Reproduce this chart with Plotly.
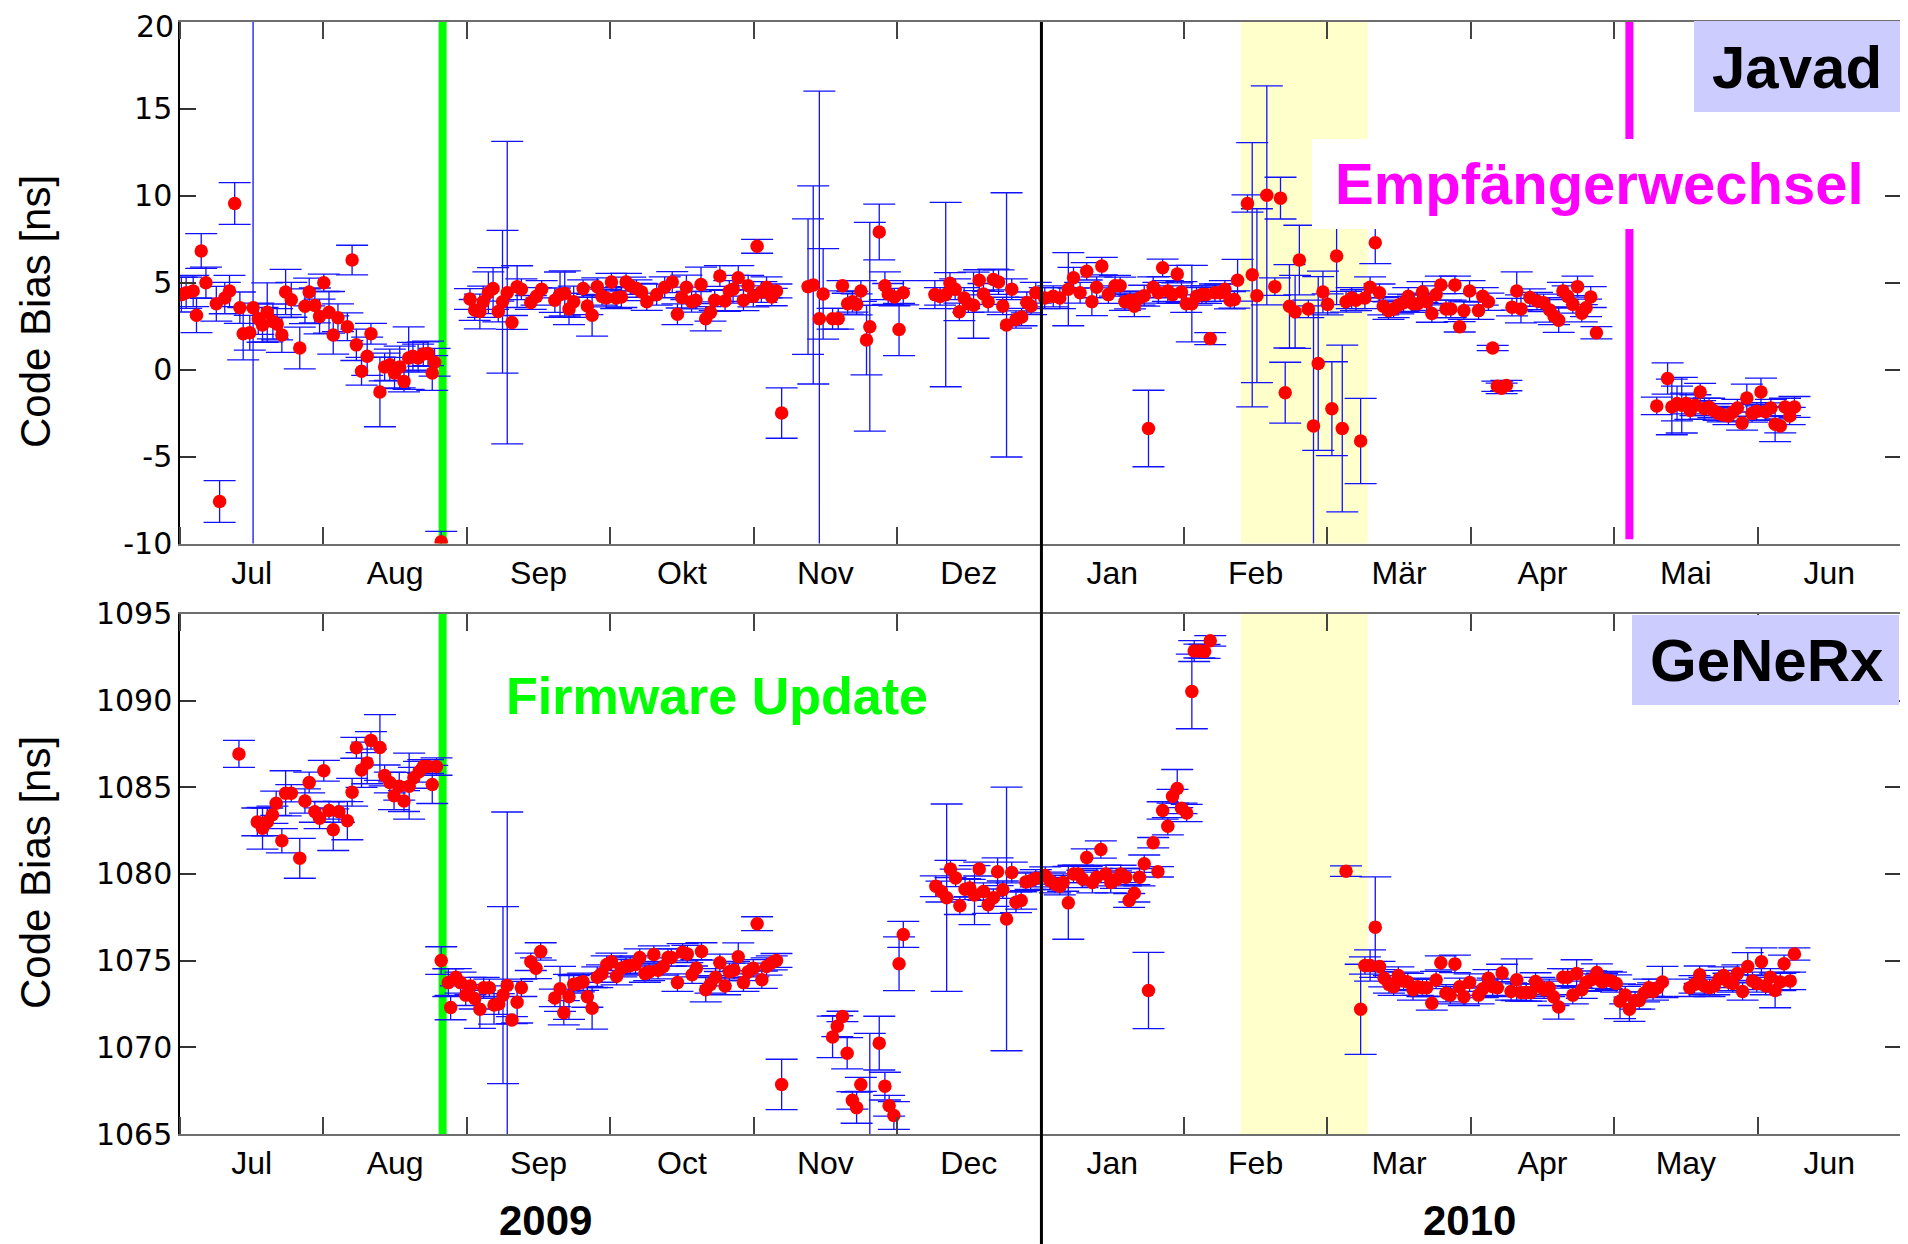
import plotly.graph_objects as go

# ---------------- data ----------------
# x = day index counted from 1 Jul 2009 on a 365-day axis in which every month has equal width
MONTHS_DE = ["Jul", "Aug", "Sep", "Okt", "Nov", "Dez", "Jan", "Feb", "Mär", "Apr", "Mai", "Jun"]
MONTHS_EN = ["Jul", "Aug", "Sep", "Oct", "Nov", "Dec", "Jan", "Feb", "Mar", "Apr", "May", "Jun"]
YEARS = ["2009", "2010"]
JAVAD_TICKS = [-10, -5, 0, 5, 10, 15, 20]
GENERX_TICKS = [1065, 1070, 1075, 1080, 1085, 1090, 1095]

javad_day = [0.3, 1.3, 2.8, 3.5, 4.5, 5.5, 7.7, 8.4, 9.5, 10.5, 11.6, 12.7, 13.4, 14.8, 15.5, 16.6, 17.5, 18.5,
             19.7, 20.6, 21.6, 22.4, 23.6, 25.4, 26.5, 27.4, 28.6, 29.6, 30.5, 31.6, 32.5, 33.5, 35.5, 36.5,
             37.4, 38.5, 39.7, 40.5, 42.4, 43.4, 44.5, 45.5, 46.6, 47.5, 48.5, 49.4, 50.5, 51.6, 52.6, 53.5,
             54.0, 55.4, 61.5, 62.5, 63.6, 64.3, 65.4, 66.4, 67.5, 68.4, 69.4, 70.4, 71.5, 72.4, 74.4, 75.6,
             76.7, 79.5, 80.6, 81.6, 82.5, 83.5, 85.5, 86.4, 87.4, 88.5, 89.5, 90.4, 91.5, 92.5, 93.6, 94.6,
             95.5, 96.8, 97.9, 99.0, 101.1, 102.8, 104.4, 105.5, 106.4, 107.4, 108.5, 109.4, 110.5, 111.5,
             112.5, 113.4, 114.5, 115.6, 116.5, 117.3, 118.4, 119.5, 120.5, 121.6, 122.4, 123.3, 124.4, 125.5,
             126.5, 127.6, 133.2, 134.3, 135.6, 136.4, 138.4, 139.6, 140.5, 141.6, 142.6, 143.5, 144.4, 145.6,
             146.3, 148.3, 149.5, 150.2, 151.5, 152.5, 153.4, 160.1, 161.2, 162.4, 163.3, 164.4, 165.3, 166.3,
             167.2, 168.3, 169.5, 170.4, 171.4, 172.5, 173.6, 174.5, 175.3, 176.4, 177.3, 178.5, 179.6, 180.5,
             181.5, 183.4, 185.2, 186.6, 188.4, 189.5, 190.9, 192.3, 193.4, 194.4, 195.5, 196.9, 198.3, 199.4,
             200.4, 201.5, 202.4, 203.5, 204.5, 205.4, 206.4, 207.5, 208.4, 209.5, 210.5, 211.5, 212.4, 213.4,
             214.6, 215.6, 216.7, 217.6, 218.5, 219.5, 220.6, 221.6, 222.7, 223.6, 224.3, 226.4, 227.4, 228.4,
             230.5, 232.2, 233.4, 234.4, 235.3, 236.5, 237.4, 239.3, 240.4, 241.4, 242.4, 243.4, 244.3, 245.3,
             246.5, 247.3, 248.5, 249.4, 250.4, 251.3, 252.4, 253.5, 254.4, 255.2, 256.3, 257.4, 258.4, 259.5,
             260.5, 261.5, 262.5, 263.5, 264.4, 265.5, 266.4, 267.4, 268.5, 269.5, 270.4, 271.4, 272.3, 273.5,
             275.4, 276.3, 277.5, 278.4, 279.4, 280.3, 281.3, 282.5, 283.5, 284.4, 286.3, 287.8, 289.2, 290.5,
             291.4, 292.4, 293.3, 294.3, 295.4, 296.4, 297.3, 298.2, 299.2, 300.4, 313.2, 315.5, 316.4, 317.5,
             318.5, 319.4, 320.3, 321.4, 322.4, 323.3, 324.3, 325.2, 326.3, 327.2, 328.4, 329.3, 330.3, 331.3,
             332.3, 333.4, 334.4, 335.3, 336.3, 337.4, 338.3, 339.4, 340.4, 341.4, 342.4]
javad_bias = [4.32, 4.43, 4.53, 3.13, 6.83, 5.0, 3.8, -7.58, 4.12, 4.53, 9.56, 3.57, 2.07, 2.13, 3.57, 2.93, 2.58,
              3.30, 2.78, 2.62, 2.0, 4.47, 4.02, 1.25, 3.65, 4.47, 3.70, 3.06, 5.0, 3.30, 2.0, 2.99, 2.47, 6.31,
              1.43, -0.09, 0.77, 2.07, -1.28, 0.16, 0.28, -0.19, 0.16, -0.67, 0.67, 0.77, 0.67, 0.90, 0.94,
              -0.19, 0.43, -9.9, 4.07, 3.44, 3.35, 3.91, 4.43, 4.67, 3.35, 3.91, 4.43, 2.72, 4.78, 4.63, 3.87,
              4.22, 4.63, 4.0, 4.32, 4.39, 3.5, 3.91, 4.67, 3.67, 3.13, 4.78, 4.22, 4.12, 5.04, 4.12, 4.18, 5.04,
              4.83, 4.67, 4.47, 3.91, 4.32, 4.74, 5.04, 3.19, 4.15, 4.74, 3.91, 4.0, 4.9, 2.93, 3.3, 4.0, 5.39,
              3.96, 4.53, 4.63, 5.29, 4.0, 4.83, 4.22, 7.1, 4.47, 4.74, 4.18, 4.53, -2.49, 4.78, 4.88, 2.93,
              4.36, 2.93, 2.93, 4.83, 3.8, 3.91, 3.76, 4.53, 1.71, 2.47, 7.92, 4.83, 4.36, 4.18, 2.31, 4.43,
              4.32, 4.22, 4.32, 4.98, 4.63, 3.33, 4.12, 3.8, 3.71, 5.15, 4.36, 3.91, 5.19, 5.04, 3.67, 2.58,
              4.63, 2.89, 3.03, 3.87, 3.67, 4.43, 4.12, 4.22, 4.12, 4.63, 5.29, 4.43, 5.66, 3.91, 4.74, 5.96,
              4.32, 4.83, 4.83, 3.91, 4.0, 3.65, 4.12, 4.26, -3.38, 4.74, 4.43, 5.86, 4.53, 4.32, 5.5, 4.47,
              3.8, 3.8, 4.22, 4.32, 4.32, 1.79, 4.43, 4.43, 4.63, 4.0, 4.04, 5.15, 9.56, 5.46, 4.26, 10.03,
              4.78, 9.87, -1.32, 3.65, 3.33, 6.31, 3.5, -3.23, 0.36, 4.47, 3.76, -2.24, 6.54, -3.38, 3.91, 4.12,
              4.0, -4.1, 4.12, 4.74, 7.3, 4.43, 3.65, 3.4, 3.5, 3.71, 3.85, 4.22, 3.8, 3.8, 4.47, 3.91, 3.23,
              4.32, 4.88, 3.5, 3.5, 4.88, 2.47, 3.4, 4.53, 3.4, 4.22, 3.91, 1.25, -0.95, -1.07, -0.91, 3.6,
              4.53, 3.5, 4.15, 3.95, 3.85, 3.44, 3.09, 2.85, 4.53, 4.22, 3.76, 4.78, 3.25, 3.56, 4.18, 2.13,
              -2.08, -0.5, -2.14, -1.94, -2.04, -1.94, -2.35, -2.04, -1.28, -2.24, -2.14, -2.35, -2.51, -2.6,
              -2.66, -2.45, -2.2, -3.07, -1.63, -2.51, -2.39, -1.28, -2.41, -2.2, -3.13, -3.23, -2.14, -2.66,
              -2.14]
javad_err = [1.0, 0.9, 0.9, 1.0, 1.0, 0.9, 1.0, 1.2, 0.9, 0.9, 1.2, 0.9, 1.5, 1.0, 25.0, 0.9, 1.0, 1.7, 1.0,
             0.9, 1.0, 1.3, 1.0, 1.2, 1.0, 0.8, 1.0, 1.0, 0.5, 1.2, 1.1, 0.8, 0.8, 0.85, 0.9, 0.8, 1.1, 0.6,
             2.0, 0.8, 0.9, 0.9, 1.2, 0.6, 1.8, 0.8, 0.8, 0.7, 0.7, 1.0, 0.8, 0.6, 0.6, 0.6, 1.0, 0.9, 1.2,
             1.2, 0.6, 4.1, 8.7, 0.4, 1.2, 0.6, 0.4, 0.5, 0.5, 0.7, 1.3, 1.3, 0.9, 0.9, 0.5, 0.5, 1.2, 0.5,
             0.5, 0.5, 0.5, 0.6, 0.6, 0.5, 0.5, 0.5, 0.5, 0.5, 0.6, 0.6, 0.6, 0.6, 0.6, 0.7, 0.6, 0.5, 1.0,
             0.7, 0.5, 0.6, 0.6, 0.6, 0.6, 0.8, 0.7, 0.6, 0.6, 0.6, 0.4, 0.6, 0.6, 0.5, 0.4, 1.45, 3.9, 5.7,
             13.1, 2.6, 0.6, 0.6, 0.3, 0.6, 0.6, 0.6, 0.6, 2.0, 6.0, 1.6, 0.8, 0.6, 0.5, 1.5, 0.7, 0.8, 0.5,
             5.3, 0.6, 0.6, 0.5, 0.6, 0.5, 1.9, 0.6, 0.6, 0.6, 0.6, 0.7, 0.5, 7.6, 0.6, 0.5, 0.5, 0.6, 0.5,
             0.6, 0.6, 0.6, 0.6, 2.1, 0.6, 0.6, 0.5, 0.8, 0.6, 0.5, 0.5, 0.6, 0.5, 0.5, 0.5, 0.6, 0.4, 0.6,
             2.2, 0.6, 0.6, 0.5, 0.6, 0.5, 0.5, 0.6, 0.5, 2.2, 0.5, 0.5, 0.5, 0.35, 0.5, 0.5, 0.5, 0.5, 0.5,
             1.2, 0.5, 7.6, 5.0, 6.3, 0.5, 1.2, 1.75, 2.4, 2.1, 2.0, 0.5, 6.9, 5.0, 1.2, 0.6, 2.7, 2.8, 4.8,
             0.6, 0.6, 0.6, 2.45, 0.6, 0.6, 1.2, 0.5, 0.5, 0.5, 0.5, 0.5, 0.5, 0.5, 0.5, 0.5, 0.6, 0.5, 0.5,
             0.5, 0.5, 0.5, 0.5, 0.5, 0.3, 0.5, 0.6, 0.5, 0.5, 0.5, 0.15, 0.3, 0.3, 0.3, 0.5, 1.1, 0.8, 0.5,
             0.5, 0.5, 0.7, 0.5, 0.7, 0.5, 0.6, 0.5, 0.6, 0.5, 0.5, 0.6, 0.35, 0.5, 0.9, 1.6, 1.0, 1.6, 0.6,
             0.5, 0.6, 0.5, 0.6, 0.5, 0.4, 0.4, 0.4, 0.5, 0.5, 0.5, 0.4, 0.8, 0.5, 0.5, 0.8, 0.5, 0.5, 1.0,
             0.4, 0.5, 0.5, 0.6]

generx_day = [12.5, 16.4, 17.5, 18.5, 19.6, 20.4, 21.6, 22.4, 23.6, 25.4, 26.5, 27.4, 28.6, 29.6, 30.5, 31.6,
              32.5, 33.7, 35.5, 36.5, 37.4, 38.5, 39.7, 40.5, 42.4, 43.4, 44.5, 45.4, 46.5, 47.5, 48.6, 49.6,
              50.7, 51.6, 52.6, 53.5, 54.4, 55.4, 56.9, 57.4, 58.5, 59.5, 60.6, 61.6, 62.5, 63.6, 64.4, 65.6,
              66.6, 67.6, 68.5, 69.4, 70.4, 71.5, 72.4, 74.4, 75.5, 76.5, 79.5, 80.6, 81.4, 82.5, 83.5, 84.6,
              85.5, 86.4, 87.4, 88.5, 89.5, 90.5, 91.5, 92.6, 93.6, 94.6, 95.5, 96.6, 97.5, 98.6, 99.5, 100.5,
              101.4, 102.5, 103.5, 104.2, 105.5, 106.6, 107.6, 108.6, 109.5, 110.6, 111.5, 112.5, 113.6, 114.5,
              115.6, 116.5, 117.5, 118.4, 119.5, 120.5, 121.6, 122.4, 123.4, 124.4, 125.5, 126.5, 127.6, 138.4,
              139.4, 140.5, 141.5, 142.6, 143.5, 144.4, 146.3, 148.3, 149.5, 150.4, 151.4, 152.5, 153.4, 160.3,
              161.5, 162.6, 163.4, 164.5, 165.4, 166.5, 167.5, 168.5, 169.5, 170.4, 171.4, 172.5, 173.4, 174.5,
              175.3, 176.4, 177.3, 178.4, 179.4, 180.4, 181.5, 183.5, 184.5, 185.6, 186.6, 187.3, 188.4, 189.5,
              190.5, 191.4, 192.3, 193.5, 194.4, 195.3, 196.4, 197.4, 198.5, 199.5, 200.6, 201.3, 202.4, 203.5,
              204.5, 205.4, 206.4, 207.4, 208.4, 209.5, 210.5, 211.5, 212.4, 213.5, 214.6, 215.1, 216.2, 217.3,
              218.5, 247.3, 250.4, 251.3, 252.4, 253.5, 254.4, 255.4, 256.4, 257.4, 258.4, 259.5, 260.4, 261.5,
              262.5, 263.5, 264.4, 265.5, 266.4, 267.4, 268.5, 269.4, 270.4, 271.4, 272.3, 273.5, 275.4, 276.3,
              277.5, 278.4, 279.4, 280.4, 282.3, 283.5, 284.4, 285.5, 286.5, 287.5, 288.3, 289.3, 290.4, 291.3,
              292.4, 293.3, 294.3, 295.4, 296.2, 297.3, 298.2, 299.3, 300.5, 301.6, 302.6, 303.5, 304.6, 305.4,
              306.5, 307.4, 308.6, 309.5, 310.5, 311.5, 312.4, 313.4, 314.4, 320.2, 321.2, 322.3, 323.3, 324.4,
              325.4, 326.4, 327.4, 328.4, 329.3, 330.3, 331.4, 332.5, 333.5, 334.4, 335.4, 336.3, 337.3, 338.3,
              339.4, 340.2, 341.5, 342.4]
generx_bias = [1086.92, 1083.0, 1082.63, 1083.0, 1083.41, 1084.07, 1081.91, 1084.65, 1084.65, 1080.90, 1084.2,
               1085.27, 1083.58, 1083.21, 1085.95, 1083.66, 1082.55, 1083.58, 1083.07, 1084.71, 1087.27, 1085.99,
               1086.40, 1087.70, 1087.29, 1085.68, 1085.27, 1084.51, 1085.06, 1084.2, 1085.06, 1085.54, 1085.89,
               1086.19, 1086.19, 1085.16, 1086.19, 1075.0, 1073.73, 1072.29, 1074.04, 1073.73, 1073.01, 1073.53,
               1072.81, 1072.19, 1073.43, 1073.43, 1072.44, 1072.5, 1073.01, 1073.57, 1071.57, 1072.6, 1073.43,
               1074.93, 1074.56, 1075.53, 1072.85, 1073.37, 1071.99, 1072.91, 1073.63, 1073.70, 1073.78, 1072.91,
               1072.25, 1074.04, 1074.25, 1074.77, 1074.93, 1074.1, 1074.56, 1074.66, 1074.72, 1074.77, 1075.18,
               1074.25, 1074.35, 1075.35, 1074.45, 1074.66, 1075.18, 1075.18, 1073.73, 1075.48, 1075.38, 1074.19,
               1074.56, 1075.53, 1073.32, 1073.63, 1074.04, 1074.87, 1073.53, 1074.35, 1074.45, 1075.22, 1073.73,
               1074.35, 1074.56, 1077.13, 1073.9, 1074.66, 1074.87, 1075.01, 1067.86, 1070.60, 1071.22, 1071.78,
               1069.66, 1066.94, 1066.52, 1067.86, 1064.0, 1070.24, 1067.76, 1066.63, 1066.07, 1074.82, 1076.51,
               1079.29, 1078.98, 1078.63, 1080.28, 1079.77, 1078.16, 1079.12, 1079.19, 1078.78, 1080.28, 1078.98,
               1078.22, 1078.63, 1080.12, 1079.09, 1077.4, 1080.08, 1078.37, 1078.47, 1079.54, 1079.6, 1079.75,
               1079.91, 1079.6, 1079.4, 1079.29, 1079.5, 1078.33, 1080.0, 1080.0, 1079.71, 1080.94, 1079.5,
               1079.81, 1081.41, 1080.0, 1079.5, 1079.67, 1080.0, 1079.81, 1078.47, 1078.88, 1079.81, 1080.59,
               1073.28, 1081.8, 1080.12, 1083.66, 1082.75, 1084.48, 1084.92, 1083.78, 1083.51, 1090.52, 1092.85,
               1092.85, 1092.83, 1093.44, 1080.16, 1072.19, 1074.72, 1074.72, 1076.93, 1074.66, 1073.98, 1073.63,
               1073.49, 1074.14, 1073.83, 1073.77, 1073.32, 1073.49, 1073.43, 1073.43, 1072.54, 1073.88, 1074.87,
               1073.12, 1073.01, 1074.81, 1073.49, 1072.91, 1073.73, 1073.01, 1073.37, 1073.98, 1073.49, 1073.43,
               1074.29, 1073.22, 1073.9, 1073.16, 1073.16, 1073.16, 1073.8, 1073.53, 1073.32, 1073.43, 1072.91,
               1072.33, 1074.04, 1074.04, 1073.01, 1074.25, 1073.32, 1073.73, 1073.9, 1074.31, 1073.77, 1073.88,
               1073.83, 1073.68, 1072.65, 1073.01, 1072.19, 1072.7, 1072.7, 1073.12, 1073.43, 1073.22, 1073.43,
               1073.77, 1073.43, 1073.63, 1074.19, 1073.53, 1073.43, 1073.53, 1073.94, 1074.14, 1073.77, 1073.68,
               1074.25, 1073.22, 1074.66, 1073.83, 1073.68, 1074.93, 1073.53, 1074.04, 1073.28, 1073.77, 1074.82,
               1073.83, 1075.38]
generx_err = [0.78, 0.8, 1.2, 0.8, 0.5, 0.7, 0.7, 1.3, 0.5, 1.15, 0.7, 0.6, 0.6, 0.6, 0.6, 0.5, 1.2, 0.6, 1.1,
              0.8, 0.6, 1.0, 1.2, 0.5, 1.9, 0.6, 0.6, 0.8, 0.8, 0.6, 1.9, 0.6, 0.6, 0.4, 0.4, 1.1, 0.5, 0.8,
              0.8, 0.7, 0.5, 0.6, 0.6, 0.5, 0.6, 1.1, 0.6, 0.5, 1.1, 0.6, 5.1, 10.0, 0.2, 1.2, 0.5, 0.5, 0.6,
              0.5, 0.5, 1.3, 0.7, 1.3, 0.5, 0.5, 0.5, 0.6, 1.2, 0.6, 0.5, 0.5, 0.5, 0.5, 0.5, 0.5, 0.5, 0.5,
              0.5, 0.5, 0.5, 0.5, 0.5, 0.5, 0.5, 0.5, 0.5, 0.5, 0.5, 0.5, 0.5, 0.5, 0.7, 0.5, 0.5, 0.5, 0.5,
              0.5, 0.5, 0.8, 0.5, 0.5, 0.5, 0.4, 0.5, 0.5, 0.4, 0.4, 1.45, 1.2, 0.6, 0.3, 0.9, 0.5, 0.9, 0.4,
              6.8, 1.55, 0.8, 0.6, 0.8, 1.55, 0.75, 0.6, 0.6, 5.4, 0.5, 0.5, 0.5, 0.6, 0.5, 1.7, 0.4, 0.5, 0.5,
              0.5, 0.8, 0.5, 7.6, 0.6, 0.6, 0.5, 0.5, 0.5, 0.5, 0.5, 0.5, 0.5, 0.5, 0.5, 2.1, 0.5, 0.5, 0.5,
              0.5, 0.6, 0.5, 0.5, 0.5, 0.6, 0.5, 0.5, 0.5, 0.4, 0.5, 0.5, 0.5, 2.2, 0.3, 0.3, 0.5, 0.5, 0.4,
              1.1, 0.3, 0.5, 2.15, 0.6, 0.4, 0.4, 0.3, 0.3, 2.6, 0.5, 0.9, 2.9, 0.3, 0.5, 0.5, 0.5, 0.5, 0.5,
              0.5, 0.6, 0.5, 0.5, 0.5, 0.4, 0.5, 0.4, 0.5, 0.5, 0.5, 0.5, 0.5, 0.5, 0.5, 0.5, 0.5, 0.5, 0.5,
              0.5, 0.5, 1.2, 0.5, 0.5, 0.5, 0.5, 0.5, 0.5, 0.5, 0.5, 0.7, 0.5, 0.5, 0.5, 0.8, 0.5, 0.5, 0.5,
              0.5, 0.5, 0.5, 0.5, 0.5, 1.0, 0.5, 0.7, 0.5, 0.5, 0.5, 0.5, 0.5, 0.5, 0.9, 0.5, 0.5, 0.5, 0.5,
              0.5, 0.5, 0.5, 0.5, 0.5, 0.5, 0.5, 0.5, 0.8, 0.5, 0.5, 0.8, 0.5, 0.5, 1.0, 0.5, 0.5, 0.5, 0.35]

# events (day index)
FIRMWARE_DAY = 55.7
RECEIVER_CHANGE_DAY = 307.4
YEAR_CHANGE_DAY = 182.7
GAP_START, GAP_END = 225.0, 251.9

# ---------------- figure ----------------
OFF = 8                      # default page margin of the html body
W, H = 1908 - OFF, 1244 - OFF
ML, MR, MT, MB = 172, 7, 14, 110
PW, PH = W - ML - MR, H - MT - MB


def px(xp):   # absolute screenshot pixel -> paper
    return (xp - OFF - ML) / PW


def py(yp):
    return (H - MB - (yp - OFF)) / PH


MONTH = 365.0 / 12.0
centers = [(i + 0.5) * MONTH for i in range(12)]
bounds = [i * MONTH for i in range(13)]

LBL = "Liberation Sans"
TICKFONT = dict(family="DejaVu Sans", size=30, color="black")
err_style = dict(type="data", color="#1212ff", thickness=1.3, width=16)
mk = dict(color="#ff0000", size=13.5)

fig = go.Figure()
fig.add_trace(go.Scatter(x=javad_day, y=javad_bias, mode="markers", marker=mk,
                         error_y=dict(array=javad_err, **err_style), xaxis="x", yaxis="y",
                         showlegend=False, hoverinfo="skip"))
fig.add_trace(go.Scatter(x=generx_day, y=generx_bias, mode="markers", marker=mk,
                         error_y=dict(array=generx_err, **err_style), xaxis="x2", yaxis="y2",
                         showlegend=False, hoverinfo="skip"))


def xax(labels, anchor):
    return dict(range=[0, 365], domain=[0, 1], anchor=anchor, tickmode="array", tickvals=centers,
                ticktext=labels, ticks="", showline=True, linecolor="#6e6e6e", linewidth=1.5,
                mirror="ticks", showgrid=False, zeroline=False, automargin=False,
                ticklabeloverflow="allow",
                tickfont=dict(family=LBL, size=32, color="black"),
                minor=dict(tickmode="array", tickvals=bounds, ticks="inside", ticklen=17,
                           tickcolor="#444444", tickwidth=1.5, showgrid=False))


def yax(rng, dom, anchor, tv, text):
    return dict(range=rng, domain=dom, anchor=anchor, tickmode="array", tickvals=tv,
                ticktext=text, ticks="inside", ticklen=16, automargin=False,
                ticklabeloverflow="allow",
                tickcolor="#333333", tickwidth=1.5, showline=True, linecolor="black", linewidth=1.5,
                mirror="ticks", showgrid=False, zeroline=False, tickfont=TICKFONT)


top_dom = [py(543.6), 1.0]
bot_dom = [0.0, py(613.8)]

# the top-most label of the upper panel is written as an annotation so it stays inside the page
javad_text = [str(v) for v in JAVAD_TICKS[:-1]] + [""]
generx_text = [str(v) for v in GENERX_TICKS]

shapes = []
for xr, yr in (("x", "y domain"), ("x2", "y2 domain")):
    shapes.append(dict(type="rect", xref=xr, yref=yr, x0=GAP_START, x1=GAP_END, y0=0, y1=1,
                       fillcolor="#ffffcc", line=dict(width=0), layer="below"))
    shapes.append(dict(type="line", xref=xr, yref=yr, x0=FIRMWARE_DAY, x1=FIRMWARE_DAY, y0=0, y1=1,
                       line=dict(color="#00ff00", width=8), layer="below"))
shapes.append(dict(type="line", xref="x", yref="y", x0=RECEIVER_CHANGE_DAY, x1=RECEIVER_CHANGE_DAY,
                   y0=-9.75, y1=20.24, line=dict(color="#ff00ff", width=8), layer="above"))
# white label box hiding the magenta line
shapes.append(dict(type="rect", xref="paper", yref="paper", x0=px(1312), x1=px(1884), y0=py(229), y1=py(139),
                   fillcolor="white", line=dict(width=0), layer="above"))
# receiver name boxes
shapes.append(dict(type="rect", xref="paper", yref="paper", x0=px(1694), x1=px(1900), y0=py(112), y1=py(21),
                   fillcolor="#ccccff", line=dict(width=0), layer="above"))
shapes.append(dict(type="rect", xref="paper", yref="paper", x0=px(1632), x1=px(1899), y0=py(705), y1=py(615),
                   fillcolor="#ccccff", line=dict(width=0), layer="above"))
# year boundary
shapes.append(dict(type="line", xref="x", yref="paper", x0=YEAR_CHANGE_DAY, x1=YEAR_CHANGE_DAY,
                   y0=py(1244), y1=1.0, line=dict(color="black", width=3), layer="above"))

annotations = [
    dict(text="<b>Javad</b>", x=px(1797), y=py(68), font=dict(family=LBL, size=60, color="black")),
    dict(text="<b>GeNeRx</b>", x=px(1766), y=py(660), font=dict(family=LBL, size=60, color="black")),
    dict(text="<b>Empfängerwechsel</b>", x=px(1599), y=py(184), font=dict(family=LBL, size=58, color="#ff00ff")),
    dict(text="<b>Firmware Update</b>", x=px(717), y=py(696), font=dict(family=LBL, size=52, color="#00ff00")),
    dict(text="Code Bias [ns]", x=px(35), y=py(312), textangle=-90, font=dict(family=LBL, size=42, color="black")),
    dict(text="Code Bias [ns]", x=px(35), y=py(873), textangle=-90, font=dict(family=LBL, size=42, color="black")),
]
for a in annotations:
    a.update(xanchor="center", yanchor="middle")
for name, xc in ((YEARS[0], 545), (YEARS[1], 1469)):
    annotations.append(dict(text="<b>" + name + "</b>", x=px(xc), y=py(1246), xanchor="center",
                            yanchor="bottom", font=dict(family=LBL, size=42, color="black")))
annotations.append(dict(text=str(JAVAD_TICKS[-1]), x=px(175), y=py(8), xanchor="right", yanchor="top",
                        borderpad=0, font=TICKFONT))
for a in annotations:
    a.update(xref="paper", yref="paper", showarrow=False)

fig.update_layout(
    width=W, height=H, autosize=False,
    margin=dict(l=ML, r=MR, t=MT, b=MB, autoexpand=False),
    paper_bgcolor="white", plot_bgcolor="white",
    xaxis=xax(MONTHS_DE, "y"), yaxis=yax([-10, 20], top_dom, "x", JAVAD_TICKS, javad_text),
    xaxis2=xax(MONTHS_EN, "y2"), yaxis2=yax([1065, 1095], bot_dom, "x2", GENERX_TICKS, generx_text),
    shapes=shapes, annotations=annotations, showlegend=False,
)

fig.write_html("out.html")
